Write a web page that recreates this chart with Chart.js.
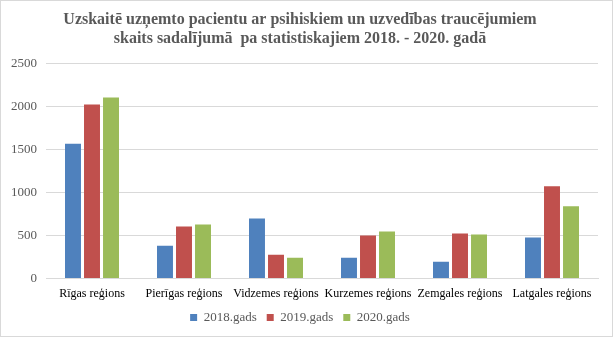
<!DOCTYPE html>
<html>
<head>
<meta charset="utf-8">
<script src="https://cdn.jsdelivr.net/npm/chart.js@4.4.0/dist/chart.umd.min.js"></script>
<style>
	html, body { margin: 0; padding: 0; background: #fff; }
	#box { width: 613px; height: 337px; box-sizing: border-box; border: 1px solid #d9d9d9; }
</style>
</head>
<body>
<div id="box"><canvas id="chart" width="611" height="335"></canvas></div>
<script>
var regions = ['Rīgas reģions', 'Pierīgas reģions', 'Vidzemes reģions', 'Kurzemes reģions', 'Zemgales reģions', 'Latgales reģions'];
var y2018 = [1566, 383, 699, 243, 196, 477];
var y2019 = [2023, 606, 278, 500, 524, 1074];
var y2020 = [2105, 629, 243, 547, 512, 840];
var yTicks = [0, 500, 1000, 1500, 2000, 2500];

var colors = ['#4f81bd', '#c0504d', '#9bbb59'];
var font = 'Liberation Serif, Times New Roman, serif';

const ctx = document.getElementById('chart');
new Chart(ctx, {
	type: 'bar',
	data: {
		labels: regions,
		datasets: [
			{ label: '2018.gads', data: y2018, backgroundColor: colors[0] },
			{ label: '2019.gads', data: y2019, backgroundColor: colors[1] },
			{ label: '2020.gads', data: y2020, backgroundColor: colors[2] }
		]
	},
	options: {
		responsive: false,
		animation: false,
		maintainAspectRatio: false,
		categoryPercentage: 0.62,
		barPercentage: 0.84,
		layout: { padding: { left: 1, right: 14, top: 0, bottom: 2 } },
		plugins: {
			title: {
				display: true,
				text: ['Uzskaitē uzņemto pacientu ar psihiskiem un uzvedības traucējumiem', 'skaits sadalījumā  pa statistiskajiem 2018. - 2020. gadā'],
				color: '#595959',
				font: { family: font, size: 16, weight: 'bold' },
				lineHeight: 1.2,
				padding: { top: 9, bottom: 15 }
			},
			legend: {
				position: 'bottom',
				labels: {
					color: '#595959',
					font: { family: font, size: 13 },
					boxWidth: 7,
					boxHeight: 7,
					padding: 10
				}
			},
			tooltip: { enabled: false }
		},
		scales: {
			x: {
				grid: { display: false },
				border: { color: '#d9d9d9' },
				ticks: { color: '#000', font: { family: font, size: 12 }, maxRotation: 0, autoSkip: false, padding: 0 }
			},
			y: {
				min: 0,
				max: 2500,
				afterBuildTicks: function(axis) { axis.ticks = yTicks.map(function(v) { return { value: v }; }); },
				grid: { color: '#d9d9d9', drawTicks: false },
				border: { display: false },
				ticks: {
					color: '#595959',
					font: { family: font, size: 13 },
					padding: 9,
					callback: function(v) { return String(v); }
				}
			}
		}
	}
});
</script>
</body>
</html>
